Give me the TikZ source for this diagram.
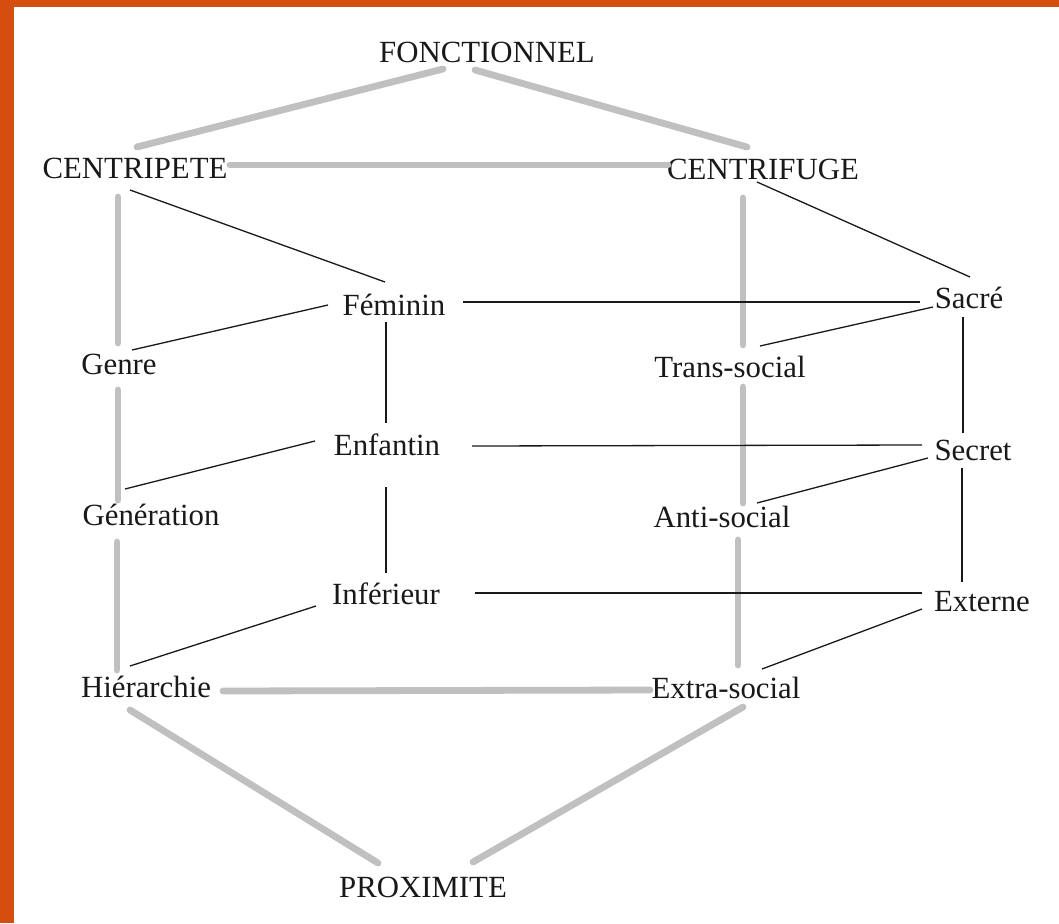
\documentclass[tikz,border=0pt]{standalone}
\usepackage{fontspec}
\setmainfont{Liberation Serif}
\usetikzlibrary{calc}
\definecolor{frameorange}{RGB}{212,78,16}
\definecolor{linkgray}{RGB}{192,192,192}
\definecolor{inkblack}{RGB}{25,25,25}
\tikzset{
  lbl/.style={anchor=base,inner sep=0pt,text=inkblack,font=\fontsize{30.8}{36}\selectfont},
  major/.style={draw=linkgray,line width=6.8pt,line cap=round},
  minor/.style={draw=inkblack,line width=1.3pt}
}
\begin{document}
\begin{tikzpicture}[x=1pt,y=-1pt]
\useasboundingbox (0,0) rectangle (1059,923);
\fill[white] (0,0) rectangle (1059,923);
\fill[frameorange] (0,0) rectangle (14,923);
\fill[frameorange] (0,0) rectangle (1059,7);

% nodes
\node[lbl] (fonc) at (487,63) {FONCTIONNEL};
\node[lbl] (ctp) at (135,178) {CENTRIPETE};
\node[lbl] (ctf) at (763,179) {CENTRIFUGE};
\node[lbl] (fem) at (394,315) {Féminin};
\node[lbl] (sac) at (969,308) {Sacré};
\node[lbl] (gen) at (119,374) {Genre};
\node[lbl] (trs) at (730,377) {Trans-social};
\node[lbl] (enf) at (387,455) {Enfantin};
\node[lbl] (sec) at (973,460) {Secret};
\node[lbl] (gnr) at (151,525) {Génération};
\node[lbl] (ant) at (722,527) {Anti-social};
\node[lbl] (inf) at (386,604) {Inférieur};
\node[lbl] (ext) at (982,611) {Externe};
\node[lbl] (hie) at (146,697) {Hiérarchie};
\node[lbl] (exs) at (726,698) {Extra-social};
\node[lbl] (prox) at (423,897) {PROXIMITE};

% gray (major) links
\draw[major] ($(fonc.base)+(-44,6)$) -- ($(ctp.base)+(2,-31)$);
\draw[major] ($(fonc.base)+(-12,7)$) -- ($(ctf.base)+(-16,-32)$);
\draw[major] ($(ctp.base)+(95,-13)$) -- ($(ctf.base)+(-95,-14)$);
\draw[major] ($(ctp.base)+(-17,19)$) -- ($(gen.base)+(-1,-31)$);
\draw[major] ($(gen.base)+(-1,16)$) -- ($(gnr.base)+(-33,-25)$);
\draw[major] ($(gnr.base)+(-34,17)$) -- ($(hie.base)+(-29,-27)$);
\draw[major] ($(hie.base)+(77,-6)$) -- ($(exs.base)+(-76,-8)$);
\draw[major] ($(hie.base)+(-16,13)$) -- ($(prox.base)+(-45,-34)$);
\draw[major] ($(exs.base)+(17,9)$) -- ($(prox.base)+(50,-35)$);
\draw[major] ($(ctf.base)+(-20,19)$) -- ($(trs.base)+(13,-32)$);
\draw[major] ($(trs.base)+(13,10)$) -- ($(ant.base)+(21,-24)$);
\draw[major] ($(ant.base)+(16,13)$) -- ($(exs.base)+(12,-33)$);

% black (minor) links
\draw[minor] ($(ctp.base)+(-5,12)$) -- ($(fem.base)+(-9,-33)$);
\draw[minor] ($(ctf.base)+(-6,3)$) -- ($(sac.base)+(1,-31)$);
\draw[minor] ($(fem.base)+(69,-13)$) -- ($(sac.base)+(-49,-6)$);
\draw[minor] ($(fem.base)+(-66,-10)$) -- ($(gen.base)+(13,-24)$);
\draw[minor] ($(sac.base)+(-36,-1)$) -- ($(trs.base)+(30,-31)$);
\draw[minor] ($(fem.base)+(-8,7)$) -- ($(enf.base)+(-1,-32)$);
\draw[minor] ($(sac.base)+(-6,9)$) -- ($(sec.base)+(-10,-27)$);
\draw[minor] ($(enf.base)+(85,-9)$) -- ($(sec.base)+(-51,-15)$);
\draw[minor] ($(enf.base)+(-72,-14)$) -- ($(gnr.base)+(-26,-36)$);
\draw[minor] ($(sec.base)+(-45,-2)$) -- ($(ant.base)+(35,-24)$);
\draw[minor] ($(enf.base)+(-1,32)$) -- ($(inf.base)+(0,-31)$);
\draw[minor] ($(sec.base)+(-11,8)$) -- ($(ext.base)+(-20,-29)$);
\draw[minor] ($(inf.base)+(89,-11)$) -- ($(ext.base)+(-60,-18)$);
\draw[minor] ($(inf.base)+(-70,2)$) -- ($(hie.base)+(-16,-31)$);
\draw[minor] ($(ext.base)+(-60,-2)$) -- ($(exs.base)+(36,-29)$);
\end{tikzpicture}
\end{document}
